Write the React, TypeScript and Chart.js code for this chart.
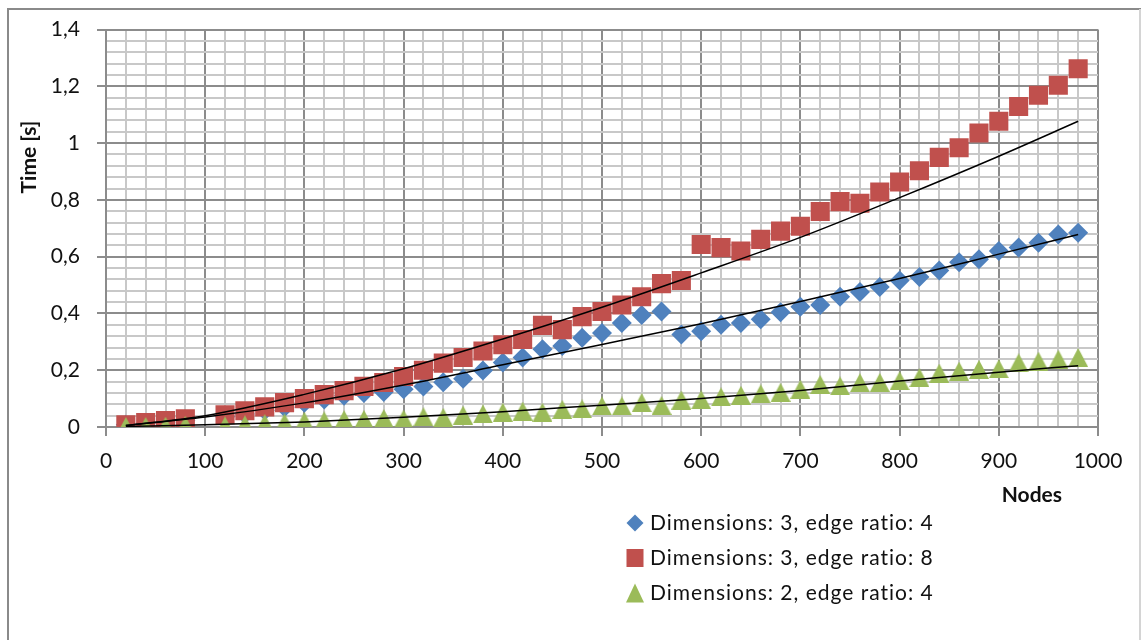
import React, { useEffect, useRef } from 'react';
import { Chart, registerables } from 'chart.js';

Chart.register(...registerables);

// ---------- data ----------
const NODES = [
  20, 40, 60, 80,
  120, 140, 160, 180, 200, 220, 240, 260, 280, 300,
  320, 340, 360, 380, 400, 420, 440, 460, 480, 500,
  520, 540, 560, 580, 600, 620, 640, 660, 680, 700,
  720, 740, 760, 780, 800, 820, 840, 860, 880, 900,
  920, 940, 960, 980,
];

const TIME_D3_R4 = [
  0.008, 0.012, 0.017, 0.024,
  0.036, 0.046, 0.058, 0.07, 0.085, 0.097, 0.11, 0.12, 0.123, 0.133,
  0.143, 0.158, 0.17, 0.199, 0.227, 0.245, 0.274, 0.285, 0.314, 0.331,
  0.366, 0.395, 0.407, 0.326, 0.337, 0.36, 0.366, 0.38, 0.404, 0.424,
  0.43, 0.459, 0.476, 0.493, 0.516, 0.528, 0.551, 0.58, 0.591, 0.62,
  0.632, 0.649, 0.678, 0.684,
];

const TIME_D3_R8 = [
  0.008, 0.016, 0.023, 0.029,
  0.043, 0.057, 0.071, 0.086, 0.1, 0.114, 0.128, 0.143, 0.157, 0.178,
  0.2, 0.225, 0.245, 0.268, 0.29, 0.308, 0.358, 0.343, 0.389, 0.407,
  0.43, 0.459, 0.505, 0.516, 0.643, 0.632, 0.62, 0.661, 0.69, 0.707,
  0.759, 0.794, 0.788, 0.828, 0.863, 0.903, 0.95, 0.984, 1.036, 1.077,
  1.129, 1.169, 1.204, 1.262,
];

const TIME_D2_R4 = [
  0.002, 0.002, 0.003, 0.006,
  0.004, 0.008, 0.012, 0.015, 0.02, 0.022, 0.026, 0.027, 0.03, 0.028,
  0.036, 0.034, 0.042, 0.046, 0.052, 0.056, 0.052, 0.062, 0.064, 0.074,
  0.074, 0.086, 0.076, 0.095, 0.096, 0.106, 0.112, 0.117, 0.122, 0.133,
  0.15, 0.145, 0.156, 0.157, 0.163, 0.174, 0.19, 0.197, 0.203, 0.205,
  0.226, 0.232, 0.239, 0.245,
];

// trendlines
const TREND_NODES = [20, 100, 200, 300, 400, 500, 600, 700, 800, 900, 980];
const TREND_D3_R4 = [0.005, 0.035, 0.085, 0.148, 0.219, 0.291, 0.364, 0.442, 0.523, 0.609, 0.678];
const TREND_D3_R8 = [0.005, 0.04, 0.115, 0.205, 0.31, 0.422, 0.543, 0.668, 0.808, 0.954, 1.077];
const TREND_D2_R4 = [0.002, 0.008, 0.018, 0.034, 0.054, 0.077, 0.1, 0.129, 0.162, 0.193, 0.216];

const SERIES_LABELS = [
  'Dimensions: 3, edge ratio: 4',
  'Dimensions: 3, edge ratio: 8',
  'Dimensions: 2, edge ratio: 4',
];
const X_TITLE = 'Nodes';
const Y_TITLE = 'Time [s]';

// ---------- styles ----------
const BLUE = '#4F81BD';
const RED = '#C0504D';
const GREEN = '#9BBB59';
const MAJOR = '#8c8c8c';
const MINOR = '#c8c8c8';
const TEXT = '#111111';
const FONT = 'Lato, "Noto Sans", sans-serif';
const TICK_SIZE = 21;

function triangleImage(w: number, h: number, color: string) {
  const c = document.createElement('canvas');
  c.width = w;
  c.height = h;
  const g = c.getContext('2d')!;
  g.fillStyle = color;
  g.beginPath();
  g.moveTo(w / 2, 0);
  g.lineTo(w, h);
  g.lineTo(0, h);
  g.closePath();
  g.fill();
  return c;
}

const isMajorX = (v: number) => Math.abs(v / 100 - Math.round(v / 100)) < 1e-6;
const isMajorY = (v: number) => Math.abs(v / 0.2 - Math.round(v / 0.2)) < 1e-6;
const fmtY = (v: number) => String(Number(v.toFixed(1))).replace('.', ',');

const decorPlugin = {
  id: 'excelDecor',
  beforeDraw(chart: any) {
    const ctx = chart.ctx;
    ctx.save();
    ctx.fillStyle = '#ffffff';
    ctx.fillRect(0, 0, chart.width, chart.height);
    ctx.lineWidth = 2;
    ctx.strokeStyle = '#8a8a8a';
    ctx.beginPath();
    ctx.moveTo(8, chart.height);
    ctx.lineTo(8, 9);
    ctx.lineTo(chart.width, 9);
    ctx.stroke();
    ctx.strokeStyle = '#d4d4d4';
    ctx.beginPath();
    ctx.moveTo(chart.width - 1, 9);
    ctx.lineTo(chart.width - 1, chart.height);
    ctx.stroke();
    ctx.restore();
  },
  afterDraw(chart: any) {
    const ctx = chart.ctx;
    ctx.save();
    ctx.fillStyle = TEXT;
    // y title
    ctx.font = `bold ${TICK_SIZE}px ${FONT}`;
    ctx.textAlign = 'center';
    ctx.textBaseline = 'middle';
    ctx.save();
    ctx.translate(29, 157);
    ctx.rotate(-Math.PI / 2);
    ctx.fillText(Y_TITLE, 0, 0);
    ctx.restore();
    // x title
    ctx.textAlign = 'right';
    ctx.fillText(X_TITLE, 1062, 495);

    // legend
    const rows = [523, 558, 593];
    const mx = 635;
    ctx.font = `${TICK_SIZE}px ${FONT}`;
    ctx.textAlign = 'left';
    try {
      (ctx as any).letterSpacing = '1px';
    } catch (e) {
      /* ignore */
    }
    rows.forEach((y, i) => {
      ctx.beginPath();
      if (i === 0) {
        ctx.fillStyle = BLUE;
        ctx.moveTo(mx - 8.5, y);
        ctx.lineTo(mx, y - 8.5);
        ctx.lineTo(mx + 8.5, y);
        ctx.lineTo(mx, y + 8.5);
        ctx.closePath();
        ctx.fill();
      } else if (i === 1) {
        ctx.fillStyle = RED;
        ctx.fillRect(mx - 8.5, y - 9, 17, 18);
      } else {
        ctx.fillStyle = GREEN;
        ctx.moveTo(mx, y - 9.5);
        ctx.lineTo(mx + 9, y + 9.5);
        ctx.lineTo(mx - 9, y + 9.5);
        ctx.closePath();
        ctx.fill();
      }
      ctx.fillStyle = TEXT;
      ctx.fillText(SERIES_LABELS[i], 650, y);
    });
    ctx.restore();
  },
};

export default function App() {
  const ref = useRef<HTMLCanvasElement | null>(null);

  useEffect(() => {
    if (!ref.current) return;
    const pts = (xs: number[], ys: number[]) => xs.map((x, i) => ({ x, y: ys[i] }));
    const tri = triangleImage(20, 19, GREEN);
    const trend = (ys: number[], label: string) => ({
      label,
      data: pts(TREND_NODES, ys),
      showLine: true,
      borderColor: '#000000',
      borderWidth: 1.5,
      pointRadius: 0,
      cubicInterpolationMode: 'monotone' as const,
      fill: false,
      order: 0,
    });

    const chart = new Chart(ref.current, {
      type: 'scatter',
      data: {
        datasets: [
          {
            label: SERIES_LABELS[0],
            data: pts(NODES, TIME_D3_R4),
            pointStyle: 'rectRot',
            pointRadius: 10,
            backgroundColor: BLUE,
            borderColor: BLUE,
            borderWidth: 0,
            order: 3,
          },
          {
            label: SERIES_LABELS[1],
            data: pts(NODES, TIME_D3_R8),
            pointStyle: 'rect',
            pointRadius: 13.5,
            backgroundColor: RED,
            borderColor: RED,
            borderWidth: 0,
            order: 2,
          },
          {
            label: SERIES_LABELS[2],
            data: pts(NODES, TIME_D2_R4),
            pointStyle: tri,
            pointRadius: 10,
            backgroundColor: GREEN,
            borderColor: GREEN,
            borderWidth: 0,
            order: 1,
          },
          trend(TREND_D3_R4, 'trend 1'),
          trend(TREND_D3_R8, 'trend 2'),
          trend(TREND_D2_R4, 'trend 3'),
        ] as any,
      },
      options: {
        responsive: false,
        animation: false,
        events: [],
        layout: { padding: { top: 25, left: 0, right: 43, bottom: 0 } },
        plugins: {
          legend: { display: false },
          tooltip: { enabled: false },
        },
        scales: {
          x: {
            type: 'linear',
            min: 0,
            max: 1000,
            afterFit: (s: any) => {
              s.height = 213;
            },
            ticks: {
              stepSize: 20,
              autoSkip: false,
              maxRotation: 0,
              padding: 13,
              color: TEXT,
              font: { family: FONT, size: TICK_SIZE },
              callback: (v: any) => (isMajorX(Number(v)) ? String(v) : ''),
            },
            grid: {
              color: (c: any) => (c.tick && isMajorX(c.tick.value) ? MAJOR : MINOR),
              lineWidth: 2,
              tickLength: 9,
              tickWidth: 2,
              tickColor: (c: any) => (c.tick && isMajorX(c.tick.value) ? MAJOR : 'rgba(0,0,0,0)'),
            },
            border: { color: MAJOR, width: 2 },
          },
          y: {
            type: 'linear',
            min: 0,
            max: 1.4,
            afterFit: (s: any) => {
              s.width = 106;
            },
            ticks: {
              stepSize: 0.04,
              autoSkip: false,
              padding: 17,
              color: TEXT,
              font: { family: FONT, size: TICK_SIZE },
              callback: (v: any) => (isMajorY(Number(v)) ? fmtY(Number(v)) : ''),
            },
            grid: {
              color: (c: any) => (c.tick && isMajorY(c.tick.value) ? MAJOR : MINOR),
              lineWidth: 2,
              tickLength: 9,
              tickWidth: 2,
              tickColor: (c: any) => (c.tick && isMajorY(c.tick.value) ? MAJOR : 'rgba(0,0,0,0)'),
            },
            border: { color: MAJOR, width: 2 },
          },
        },
      } as any,
      plugins: [decorPlugin],
    });

    return () => chart.destroy();
  }, []);

  return (
    <div style={{ position: 'absolute', left: 0, top: 0, width: 1141, height: 640 }}>
      <canvas ref={ref} width={1141} height={640} style={{ display: 'block' }} />
    </div>
  );
}
